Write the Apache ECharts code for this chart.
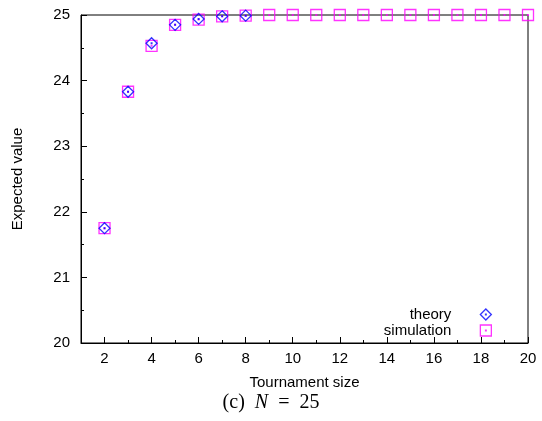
<!DOCTYPE html>
<html lang="en">
<head>
  <meta charset="UTF-8">
  <title>Expected value vs tournament size</title>
  <script src="https://cdn.jsdelivr.net/npm/echarts/dist/echarts.min.js"></script>
  <style>
    body { margin: 0; background: #ffffff; }
    #main { width: 542px; height: 421px; }
  </style>
</head>
<body>
  <div id="main"></div>
  <script>
    // data
    const theoryX = [2, 3, 4, 5, 6, 7, 8];
    const theoryY = [21.75, 23.83, 24.57, 24.85, 24.94, 24.98, 24.99];
    const simX = [2, 3, 4, 5, 6, 7, 8, 9, 10, 11, 12, 13, 14, 15, 16, 17, 18, 19, 20];
    const simY = [21.75, 23.83, 24.53, 24.85, 24.93, 24.98, 24.99, 25, 25, 25, 25, 25, 25, 25, 25, 25, 25, 25, 25];
    const majorX = [2, 4, 6, 8, 10, 12, 14, 16, 18, 20];
    const minorX = [3, 5, 7, 9, 11, 13, 15, 17, 19];

    const font = '"Liberation Sans", Arial, sans-serif';
    const serif = '"Liberation Serif", "DejaVu Serif", serif';
    // hollow marks with a dot in the middle, like gnuplot
    const diamondPath = 'path://M5,0L10,5L5,10L0,5Z M4.7,4.7L5.3,4.7L5.3,5.3L4.7,5.3Z';
    const squarePath = 'path://M0,0L10,0L10,10L0,10Z M4.7,4.7L5.3,4.7L5.3,5.3L4.7,5.3Z';

    const zip = (xs, ys) => xs.map((x, i) => [x, ys[i]]);

    function legendFor(name, top) {
      return {
        data: [name], align: 'right', right: 50, top: top, padding: 0,
        itemWidth: 11, itemHeight: 11,
        itemStyle: { borderWidth: 1.3 },
        formatter: '{t|{name}}',
        textStyle: { fontSize: 15, color: '#000', rich: { t: { fontSize: 15, padding: [0, 24, 0, 0] } } }
      };
    }

    var chart = echarts.init(document.getElementById('main'));
    var option = {
      animation: false,
      backgroundColor: '#ffffff',
      textStyle: { fontFamily: font, color: '#000' },
      grid: {
        left: 81, right: 14, top: 15, bottom: 78,
        show: true, borderColor: '#000', borderWidth: 1
      },
      title: {
        text: '(c)  {i|N}  =  25',
        left: 'center',
        top: 388,
        textStyle: {
          fontFamily: serif, fontSize: 20, fontWeight: 'normal', color: '#000',
          rich: { i: { fontFamily: serif, fontStyle: 'italic', fontSize: 20 } }
        }
      },
      legend: [legendFor('theory', 307), legendFor('simulation', 323)],
      xAxis: [
        {
          type: 'value', min: 1, max: 20, position: 'bottom',
          name: 'Tournament size', nameLocation: 'middle', nameGap: 32,
          nameTextStyle: { fontSize: 15, color: '#000' },
          axisLine: { lineStyle: { color: '#000', width: 1 } },
          axisTick: { inside: true, length: 6, customValues: majorX, lineStyle: { color: '#000' } },
          axisLabel: { customValues: majorX, fontSize: 15, color: '#000', margin: 8 },
          splitLine: { show: false }
        },
        {
          // minor ticks at the odd sizes
          type: 'value', min: 1, max: 20, position: 'bottom', offset: 0,
          axisLine: { show: false },
          axisTick: { inside: true, length: 3, customValues: minorX, lineStyle: { color: '#000' } },
          axisLabel: { show: false },
          splitLine: { show: false }
        }
      ],
      yAxis: {
        type: 'value', min: 20, max: 25, interval: 1,
        name: 'Expected value', nameLocation: 'middle', nameGap: 56,
        nameTextStyle: { fontSize: 15, color: '#000' },
        axisLine: { lineStyle: { color: '#000', width: 1 } },
        axisTick: { inside: true, length: 6, lineStyle: { color: '#000' } },
        minorTick: { show: true, splitNumber: 2, length: 3, lineStyle: { color: '#000' } },
        axisLabel: { fontSize: 15, color: '#000', margin: 11 },
        splitLine: { show: false }
      },
      series: [
        {
          name: 'theory', type: 'scatter', xAxisIndex: 0, z: 3,
          symbol: diamondPath, symbolSize: 11,
          itemStyle: { color: 'transparent', borderColor: '#0000ff', borderWidth: 1.3 },
          data: zip(theoryX, theoryY)
        },
        {
          name: 'simulation', type: 'scatter', xAxisIndex: 0, z: 2,
          symbol: squarePath, symbolSize: 11,
          itemStyle: { color: 'transparent', borderColor: '#ff00ff', borderWidth: 1.3 },
          data: zip(simX, simY)
        }
      ]
    };
    chart.setOption(option);
  </script>
</body>
</html>
